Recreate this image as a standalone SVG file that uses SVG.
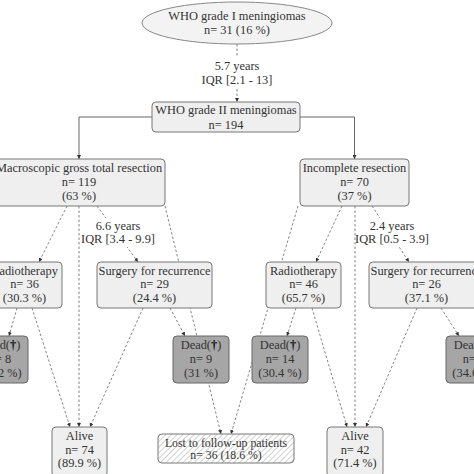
<svg xmlns="http://www.w3.org/2000/svg" width="474" height="474" viewBox="0 0 474 474">
<style>
text{font-family:"Liberation Serif","Times New Roman",serif;font-size:12.4px;fill:#333;text-anchor:middle}
.b{fill:#efefef;stroke:#777;stroke-width:1}
.d{fill:#a6a6a6;stroke:#666;stroke-width:1}
.c{fill:none;stroke:#777;stroke-width:0.9;stroke-dasharray:2.5,2;marker-end:url(#ah)}
.s{fill:none;stroke:#666;stroke-width:1;marker-end:url(#ah)}
.dg{font-weight:bold;fill:#111}
.sm{font-size:11.8px}
</style>
<defs>
<marker id="ah" markerWidth="4" markerHeight="4" refX="4" refY="2" orient="auto" markerUnits="userSpaceOnUse">
<path d="M0,0 L4,2 L0,4 Z" fill="#333"/>
</marker>
<pattern id="hatch" width="4" height="4" patternUnits="userSpaceOnUse" patternTransform="rotate(45)">
<line x1="0" y1="0" x2="0" y2="4" stroke="#999" stroke-width="0.9"/>
</pattern>
</defs>
<rect width="474" height="474" fill="#fff"/>
<g id="connectors">
<path class="c" d="M237,44 V102"/>
<path class="s" d="M152,117 H79 V159"/>
<path class="s" d="M300,117 H354.5 V159"/>
<path class="c" d="M67,206 L39,262"/>
<path class="c" d="M79,206 V427"/>
<path class="c" d="M97,206 L138,262"/>
<path class="c" d="M165,206 L221,434"/>
<path class="c" d="M17,308 L9,336"/>
<path class="c" d="M32,308 L70,427"/>
<path class="c" d="M170,308 L185,336"/>
<path class="c" d="M143,308 L90,427"/>
<path class="c" d="M342,206 L316,262"/>
<path class="c" d="M355,206 V427"/>
<path class="c" d="M372,206 L409,262"/>
<path class="c" d="M298,206 L231,434"/>
<path class="c" d="M296,308 L287,336"/>
<path class="c" d="M312,308 L347,427"/>
<path class="c" d="M441,308 L459,336"/>
<path class="c" d="M417,308 L366,427"/>
</g>
<g id="labels">
<rect x="196" y="57" width="82" height="31" fill="#fff"/>
<text x="237" y="70">5.7 years</text>
<text x="237" y="84">IQR [2.1 - 13]</text>
<rect x="82" y="218" width="73" height="29" fill="#fff"/>
<text x="118" y="230">6.6 years</text>
<text x="118" y="243">IQR [3.4 - 9.9]</text>
<rect x="357" y="218" width="72" height="29" fill="#fff"/>
<text x="392" y="230">2.4 years</text>
<text x="392" y="243">IQR [0.5 - 3.9]</text>
</g>
<g id="who1">
<ellipse cx="237" cy="23" rx="95" ry="21" fill="#f3f3f3" stroke="#888"/>
<text x="237" y="20">WHO grade I meningiomas</text>
<text x="237" y="34">n= 31 (16 %)</text>
</g>
<g id="who2">
<rect class="b" x="152" y="102" width="148" height="30" rx="4"/>
<text x="226" y="114">WHO grade II meningiomas</text>
<text x="226" y="129">n= 194</text>
</g>
<g id="macro">
<rect class="b" x="-7" y="159" width="172" height="47" rx="4"/>
<text x="79" y="172">Macroscopic gross total resection</text>
<text x="79" y="186">n= 119</text>
<text x="79" y="200">(63 %)</text>
</g>
<g id="incomplete">
<rect class="b" x="300" y="159" width="109" height="47" rx="4"/>
<text x="354.5" y="172">Incomplete resection</text>
<text x="354.5" y="186">n= 70</text>
<text x="354.5" y="200">(37 %)</text>
</g>
<g id="radioL">
<rect class="b" x="-13" y="262" width="75" height="46" rx="4"/>
<text x="24.5" y="275">Radiotherapy</text>
<text x="24.5" y="288">n= 36</text>
<text x="24.5" y="302">(30.3 %)</text>
</g>
<g id="surgL">
<rect class="b" x="97" y="262" width="115" height="46" rx="4"/>
<text x="154.5" y="275">Surgery for recurrence</text>
<text x="154.5" y="288">n= 29</text>
<text x="154.5" y="302">(24.4 %)</text>
</g>
<g id="radioR">
<rect class="b" x="266" y="262" width="75" height="46" rx="4"/>
<text x="303.5" y="275">Radiotherapy</text>
<text x="303.5" y="288">n= 46</text>
<text x="303.5" y="302">(65.7 %)</text>
</g>
<g id="surgR">
<rect class="b" x="369" y="262" width="115" height="46" rx="4"/>
<text x="426.5" y="275">Surgery for recurrence</text>
<text x="426.5" y="288">n= 26</text>
<text x="426.5" y="302">(37.1 %)</text>
</g>
<g id="deadL">
<rect class="d" x="-28" y="336" width="56" height="47" rx="4"/>
<text x="0" y="349">Dead(<tspan class="dg">†</tspan>)</text>
<text x="0" y="363">n= 8</text>
<text x="0" y="377">(22.2 %)</text>
</g>
<g id="deadM">
<rect class="d" x="173" y="336" width="56" height="47" rx="4"/>
<text x="201" y="349">Dead(<tspan class="dg">†</tspan>)</text>
<text x="201" y="363">n= 9</text>
<text x="201" y="377">(31 %)</text>
</g>
<g id="dead14">
<rect class="d" x="252" y="336" width="56" height="47" rx="4"/>
<text x="280" y="349">Dead(<tspan class="dg">†</tspan>)</text>
<text x="280" y="363">n= 14</text>
<text x="280" y="377">(30.4 %)</text>
</g>
<g id="deadR">
<rect class="d" x="446" y="336" width="56" height="47" rx="4"/>
<text x="474" y="349">Dead(<tspan class="dg">†</tspan>)</text>
<text x="474" y="363">n= 9</text>
<text x="474" y="377">(34.6 %)</text>
</g>
<g id="aliveL">
<rect class="b" x="52" y="427" width="55" height="50" rx="4"/>
<text x="79.5" y="440">Alive</text>
<text x="79.5" y="454">n= 74</text>
<text x="79.5" y="467">(89.9 %)</text>
</g>
<g id="aliveR">
<rect class="b" x="327" y="427" width="56" height="50" rx="4"/>
<text x="355" y="440">Alive</text>
<text x="355" y="454">n= 42</text>
<text x="355" y="467">(71.4 %)</text>
</g>
<g id="lost">
<rect x="158" y="434" width="136" height="29" rx="4" fill="#fff"/>
<rect x="158" y="434" width="136" height="29" rx="4" fill="url(#hatch)" stroke="#777"/>
<text class="sm" x="226" y="446.5">Lost to follow-up patients</text>
<text class="sm" x="226" y="459">n= 36 (18.6 %)</text>
</g>
</svg>
